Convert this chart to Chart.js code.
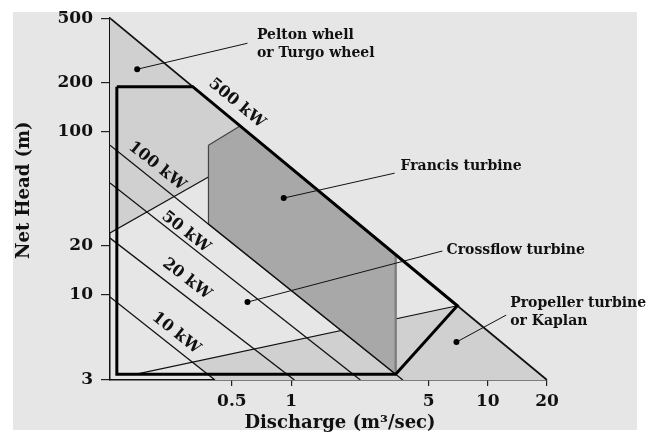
<!DOCTYPE html>
<html><head><meta charset="utf-8">
<script src="https://cdn.jsdelivr.net/npm/chart.js@4/dist/chart.umd.min.js"></script>
<style>html,body{margin:0;padding:0;background:#fff;overflow:hidden}canvas{display:block}</style>
</head><body>
<canvas id="c" width="654" height="434"></canvas>
<script>
// ---- axes ----
const xTicks = [0.5, 1, 5, 10, 20];
const yTicks = [3, 10, 20, 100, 200, 500];
const xRange = [0.12, 20];
const yRange = [3, 500];

// ---- regions: discharge Q (m³/s) and net head H (m) ----
const peltonQ = [0.12, 0.55, 0.38, 0.38, 0.12, 0.12];
const peltonH = [500, 109, 83, 53, 24, 500];
const lowerQ = [0.31, 7.0, 20, 0.41, 0.31];
const lowerH = [3.85, 8.57, 3, 3, 3.85];
const francisQ = [0.38, 0.55, 3.4, 3.4, 0.38, 0.38];
const francisH = [83, 109, 17.6, 3.25, 27.2, 83];
const crossflowQ = [0.13, 0.316, 7.0, 3.4, 0.13, 0.13];
const crossflowH = [190, 190, 8.57, 3.25, 3.25, 190];

// ---- boundary lines ----
const lineAQ = [0.12, 0.38];
const lineAH = [24, 53];
const lineBQ = [0.161, 7.0];
const lineBH = [3.25, 8.57];

// ---- constant power lines ----
const powerLabels = ['10 kW', '20 kW', '50 kW', '100 kW', '500 kW'];
const powerStartQ = [0.12, 0.12, 0.12, 0.12, 0.12];
const powerStartH = [9.7, 22.3, 48.6, 83, 500];
const powerEndQ = [0.41, 1.04, 2.25, 3.7, 20];
const powerEndH = [3, 3, 3, 3, 3];
const powerLabelQ = [0.26, 0.295, 0.292, 0.208, 0.53];
const powerLabelH = [5.82, 12.5, 24.3, 61.7, 150];

// ---- turbine annotations ----
const turbineNames = [['Pelton whell', 'or Turgo wheel'], ['Francis turbine'], ['Crossflow turbine'], ['Propeller turbine', 'or Kaplan']];
const dotQ = [0.165, 0.917, 0.60, 6.93];
const dotH = [243, 39.3, 9.03, 5.13];
const leaderQ = [0.60, 3.36, 5.88, 12.4];
const leaderH = [351, 55.9, 18.6, 7.51];
const textQ = [0.67, 3.6, 6.17, 13.0];
const textH = [345, 61.7, 18.8, 7.78];

const pts = (qs, hs) => qs.map((q, i) => ({x: q, y: hs[i]}));
const SERIF = "'DejaVu Serif', 'Liberation Serif', serif";

const datasets = [];
function add(data, opts) {
  datasets.push(Object.assign({data, showLine: true, pointRadius: 0, borderWidth: 1.2,
    borderColor: '#111', backgroundColor: 'transparent', fill: false, tension: 0, order: 0}, opts));
}
add(pts(peltonQ, peltonH), {fill: 'shape', backgroundColor: '#d0d0d0', borderWidth: 0, borderColor: 'transparent', order: 20});
add(pts(lowerQ, lowerH), {fill: 'shape', backgroundColor: '#d0d0d0', borderWidth: 0, borderColor: 'transparent', order: 19});
add(pts(lineAQ, lineAH), {order: 15});
add(pts(lineBQ, lineBH), {order: 15});
add(pts(francisQ, francisH), {fill: 'shape', backgroundColor: '#a8a8a8', borderColor: '#444', borderWidth: 1.2, order: 10});
add(pts(francisQ.slice(2, 4), francisH.slice(2, 4)), {borderColor: '#7c7c7c', borderWidth: 2.2, order: 9});
for (let i = 0; i < powerLabels.length; i++) {
  add(pts([powerStartQ[i], powerEndQ[i]], [powerStartH[i], powerEndH[i]]), {borderWidth: i === 4 ? 1.8 : 1.3, order: 5});
}
add(pts(crossflowQ, crossflowH), {borderWidth: 3, borderColor: '#000', order: 3});
for (let i = 0; i < dotQ.length; i++) {
  add(pts([dotQ[i], leaderQ[i]], [dotH[i], leaderH[i]]), {borderWidth: 1, pointRadius: [3, 0], pointBackgroundColor: '#000', pointBorderWidth: 0, order: 1});
}

const decor = {
  id: 'decor',
  beforeDraw(chart) {
    const ctx = chart.ctx;
    ctx.save();
    ctx.fillStyle = '#ffffff';
    ctx.fillRect(0, 0, chart.width, chart.height);
    ctx.fillStyle = '#e6e6e6';
    ctx.fillRect(13, 12, 624, 418);
    ctx.restore();
  },
  afterDatasetsDraw(chart) {
    const ctx = chart.ctx, xs = chart.scales.x, ys = chart.scales.y;
    const px = v => xs.getPixelForValue(v), py = v => ys.getPixelForValue(v);
    ctx.save();
    ctx.fillStyle = '#111';
    // power line labels
    ctx.font = 'bold 16px ' + SERIF;
    ctx.textAlign = 'center';
    ctx.textBaseline = 'middle';
    for (let i = 0; i < powerLabels.length; i++) {
      const a = Math.atan2(py(powerEndH[i]) - py(powerStartH[i]), px(powerEndQ[i]) - px(powerStartQ[i]));
      ctx.save();
      ctx.translate(px(powerLabelQ[i]), py(powerLabelH[i]));
      ctx.rotate(a);
      ctx.fillText(powerLabels[i], 0, 0);
      ctx.restore();
    }
    // turbine names
    ctx.font = 'bold 14px ' + SERIF;
    ctx.textAlign = 'left';
    for (let i = 0; i < turbineNames.length; i++) {
      const lines = turbineNames[i];
      const lh = 18;
      const y0 = py(textH[i]) - (lines.length - 1) * lh / 2;
      lines.forEach((t, j) => ctx.fillText(t, px(textQ[i]), y0 + j * lh));
    }
    ctx.restore();
  },
  afterDraw(chart) {
    const ctx = chart.ctx, area = chart.chartArea;
    ctx.save();
    ctx.fillStyle = '#111';
    ctx.font = 'bold 18px ' + SERIF;
    ctx.textAlign = 'center';
    ctx.textBaseline = 'middle';
    ctx.fillText('Discharge (m³/sec)', area.left + 230, 423);
    ctx.translate(24, area.top + 172);
    ctx.rotate(-Math.PI / 2);
    ctx.fillText('Net Head (m)', 0, 0);
    ctx.restore();
  }
};

new Chart(document.getElementById('c'), {
  type: 'scatter',
  data: {datasets},
  plugins: [decor],
  options: {
    responsive: false,
    animation: false,
    devicePixelRatio: 1,
    layout: {padding: {left: 0, top: 18, right: 107, bottom: 0}},
    plugins: {legend: {display: false}, tooltip: {enabled: false}},
    scales: {
      x: {
        type: 'logarithmic', min: xRange[0], max: xRange[1], bounds: 'data',
        afterBuildTicks: s => { s.ticks = xTicks.map(v => ({value: v})); },
        afterFit: s => { s.height = 54; },
        ticks: {callback: v => String(v), autoSkip: false, maxRotation: 0, color: '#111', padding: 5,
          font: {family: SERIF, size: 17, weight: 'bold'}},
        grid: {drawOnChartArea: false, drawTicks: true, tickLength: 6, color: '#222', lineWidth: 1.2},
        border: {display: true, color: '#111', width: 1.5}
      },
      y: {
        type: 'logarithmic', min: yRange[0], max: yRange[1], bounds: 'data',
        afterBuildTicks: s => { s.ticks = yTicks.map(v => ({value: v})); },
        afterFit: s => { s.width = 110; },
        ticks: {callback: v => String(v), autoSkip: false, color: '#111', padding: 8,
          font: {family: SERIF, size: 17, weight: 'bold'}},
        grid: {drawOnChartArea: false, drawTicks: true, tickLength: 9, color: '#222', lineWidth: 1.2},
        border: {display: true, color: '#111', width: 1.5}
      }
    }
  }
});
</script>
</body></html>
